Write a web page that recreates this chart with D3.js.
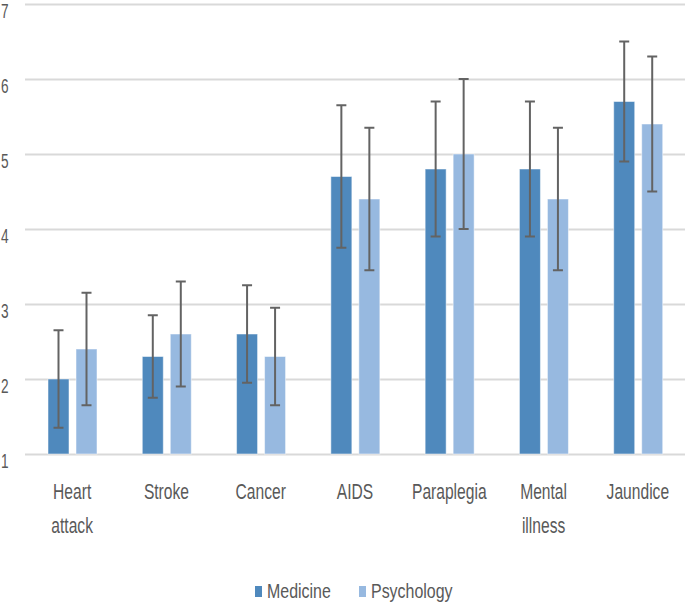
<!DOCTYPE html>
<html>
<head>
<meta charset="utf-8">
<script src="https://cdn.jsdelivr.net/npm/d3@7"></script>
<style>
  html, body { margin: 0; padding: 0; background: #fff; }
  svg { display: block; font-family: "Liberation Sans", Arial, sans-serif; }
</style>
</head>
<body>
<svg id="grafico"></svg>
<script>
"use strict"

const categorias = ['Heart attack', 'Stroke', 'Cancer', 'AIDS', 'Paraplegia', 'Mental illness', 'Jaundice'];
const series = ['Medicine', 'Psychology'];
const medicina = [2.0, 2.3, 2.6, 4.7, 4.8, 4.8, 5.7];
const psicologia = [2.4, 2.6, 2.3, 4.4, 5.0, 4.4, 5.4];
const erroMedicina = [0.65, 0.55, 0.65, 0.95, 0.9, 0.9, 0.8];
const erroPsicologia = [0.75, 0.7, 0.65, 0.95, 1.0, 0.95, 0.9];
const ticksY = [1, 2, 3, 4, 5, 6, 7];

function iniciar(){
  const largura = 685;
  const altura = 607;
  const cores = { Medicine: '#4f89bd', Psychology: '#97b9e0' };
  const corTexto = '#595959';

  const svg = d3.select('#grafico').attr('width', largura).attr('height', altura);

  const y = d3.scaleLinear().domain([1, 7]).range([454, 4]);
  const x = d3.scaleBand().domain(categorias).range([25, 685]);
  const x1 = d3.scaleBand().domain(series).range([23, 72]).paddingInner(0.25);

  // grade + rotulos do eixo y
  const eixoY = svg.append('g')
    .attr('transform', 'translate(25,0)')
    .call(d3.axisLeft(y).tickValues(ticksY).tickSize(-660).tickFormat(d3.format('d')));
  eixoY.select('.domain').remove();
  eixoY.selectAll('.tick line').attr('stroke', '#d9d9d9').attr('stroke-width', 2);
  eixoY.selectAll('.tick text')
    .attr('x', 0).attr('dy', null).attr('y', 0)
    .attr('transform', 'translate(-24,13) scale(0.65,1)')
    .attr('text-anchor', 'start')
    .attr('fill', corTexto)
    .style('font-size', '21px');

  const dados = categorias.map((c, i) => ({
    nome: c,
    valores: [
      { serie: 'Medicine', v: medicina[i], e: erroMedicina[i] },
      { serie: 'Psychology', v: psicologia[i], e: erroPsicologia[i] }
    ]
  }));

  const grupos = svg.selectAll('.grupo')
    .data(dados)
    .enter()
      .append('g')
      .classed('grupo', true)
      .attr('transform', d => `translate(${x(d.nome)},0)`);

  grupos.selectAll('.barra')
    .data(d => d.valores)
    .enter()
      .append('rect')
      .classed('barra', true)
      .attr('x', d => x1(d.serie))
      .attr('y', d => y(d.v))
      .attr('width', x1.bandwidth())
      .attr('height', d => y(1) - y(d.v))
      .attr('fill', d => cores[d.serie])
      .attr('stroke', '#ffffff')
      .attr('stroke-opacity', 0.5)
      .attr('stroke-width', 1);

  // barras de erro
  const erro = grupos.selectAll('.erro')
    .data(d => d.valores)
    .enter()
      .append('g')
      .classed('erro', true)
      .attr('transform', d => `translate(${x1(d.serie) + x1.bandwidth() / 2},0)`)
      .attr('stroke', '#636363')
      .attr('stroke-width', 2);
  erro.append('line')
    .attr('y1', d => y(d.v + d.e)).attr('y2', d => y(d.v - d.e));
  erro.append('line')
    .attr('x1', -5).attr('x2', 5)
    .attr('y1', d => y(d.v + d.e)).attr('y2', d => y(d.v + d.e));
  erro.append('line')
    .attr('x1', -5).attr('x2', 5)
    .attr('y1', d => y(d.v - d.e)).attr('y2', d => y(d.v - d.e));

  // rotulos das categorias
  const rotulos = svg.selectAll('.rotulo')
    .data(categorias)
    .enter()
      .append('text')
      .classed('rotulo', true)
      .attr('transform', d => `translate(${x(d) + x.bandwidth() / 2},499) scale(0.71,1)`)
      .attr('text-anchor', 'middle')
      .attr('fill', corTexto)
      .style('font-size', '22px');
  rotulos.selectAll('tspan')
    .data(d => d.split(' '))
    .enter()
      .append('tspan')
      .attr('x', 0)
      .attr('y', (d, i) => i * 34)
      .text(d => d);

  // legenda
  const posLegenda = [255, 359];
  const legenda = svg.selectAll('.legenda')
    .data(series)
    .enter()
      .append('g')
      .classed('legenda', true)
      .attr('transform', (d, i) => `translate(${posLegenda[i]},586)`);
  legenda.append('rect')
    .attr('width', 7).attr('height', 11)
    .attr('fill', d => cores[d]);
  legenda.append('text')
    .attr('transform', 'translate(12,12) scale(0.76,1)')
    .attr('fill', corTexto)
    .style('font-size', '21px')
    .text(d => d);
}

window.addEventListener('load', iniciar, false);
</script>
</body>
</html>
